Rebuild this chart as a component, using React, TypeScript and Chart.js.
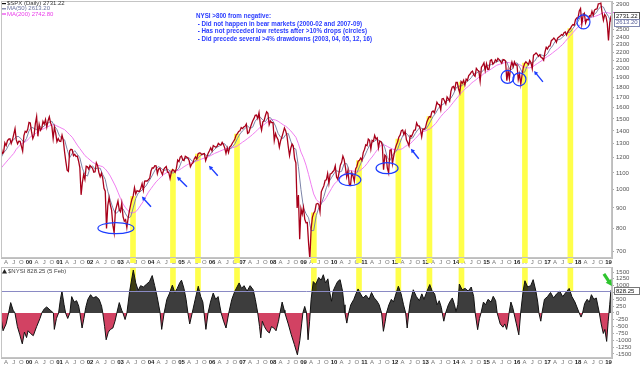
import React, { useEffect, useRef } from "react";
import { Chart, registerables } from "chart.js";

Chart.register(...registerables);

const FONT = "'Liberation Sans', Arial, sans-serif";

// ---- S&P 500, half-monthly closes (mid-month, month-end) ----
const spx1999 = [1243, 1280, 1230, 1238, 1307, 1286, 1322, 1335, 1338, 1302, 1330, 1373, 1418, 1329, 1300, 1320, 1318, 1283, 1247, 1363, 1396, 1389, 1413, 1469];
const spx2000 = [1465, 1394, 1340, 1366, 1460, 1520, 1357, 1452, 1405, 1421, 1479, 1455, 1495, 1431, 1484, 1518, 1466, 1437, 1340, 1429, 1382, 1315, 1340, 1320];
const spx2001 = [1318, 1366, 1326, 1240, 1173, 1117, 1110, 1249, 1260, 1256, 1214, 1224, 1208, 1211, 1178, 1134, 970, 1041, 1089, 1060, 1143, 1139, 1124, 1148];
const spx2002 = [1139, 1130, 1104, 1107, 1166, 1147, 1102, 1076, 1098, 1067, 1007, 990, 800, 912, 955, 916, 889, 815, 780, 886, 910, 936, 890, 880];
const spx2003 = [925, 856, 834, 841, 804, 848, 885, 917, 946, 964, 1011, 975, 994, 990, 990, 1008, 1035, 996, 1050, 1051, 1050, 1058, 1068, 1112];
const spx2004 = [1133, 1131, 1146, 1145, 1095, 1126, 1130, 1107, 1090, 1121, 1133, 1141, 1106, 1102, 1065, 1104, 1121, 1115, 1104, 1130, 1184, 1174, 1205, 1212];
const spx2005 = [1185, 1181, 1210, 1204, 1198, 1181, 1140, 1157, 1165, 1192, 1206, 1191, 1227, 1234, 1233, 1220, 1227, 1229, 1180, 1207, 1232, 1249, 1270, 1248];
const spx2006 = [1287, 1280, 1275, 1281, 1303, 1295, 1290, 1311, 1294, 1270, 1230, 1270, 1236, 1277, 1285, 1304, 1319, 1336, 1366, 1378, 1396, 1401, 1427, 1418];
const spx2007 = [1431, 1438, 1456, 1380, 1387, 1421, 1452, 1482, 1502, 1531, 1533, 1503, 1553, 1455, 1406, 1474, 1484, 1527, 1562, 1549, 1451, 1481, 1468, 1468];
const spx2008 = [1325, 1379, 1349, 1331, 1275, 1323, 1351, 1386, 1424, 1400, 1360, 1280, 1215, 1267, 1298, 1283, 1193, 1166, 900, 969, 752, 896, 868, 903];
const spx2009 = [843, 826, 827, 735, 670, 798, 852, 873, 883, 919, 923, 919, 880, 987, 1004, 1021, 1053, 1057, 1096, 1036, 1093, 1096, 1107, 1115];
const spx2010 = [1145, 1074, 1060, 1104, 1150, 1169, 1211, 1187, 1135, 1075, 1115, 1031, 1025, 1102, 1080, 1048, 1125, 1141, 1176, 1183, 1198, 1181, 1236, 1258];
const spx2011 = [1293, 1286, 1336, 1327, 1260, 1326, 1319, 1364, 1337, 1345, 1270, 1321, 1316, 1292, 1120, 1219, 1209, 1131, 1100, 1253, 1257, 1160, 1212, 1258];
const spx2012 = [1289, 1312, 1350, 1366, 1402, 1408, 1370, 1398, 1330, 1310, 1285, 1362, 1356, 1379, 1405, 1407, 1465, 1441, 1440, 1412, 1353, 1416, 1413, 1426];
const spx2013 = [1472, 1498, 1520, 1515, 1561, 1569, 1553, 1598, 1650, 1631, 1626, 1580, 1682, 1686, 1662, 1633, 1700, 1682, 1660, 1757, 1798, 1806, 1775, 1848];
const spx2014 = [1848, 1783, 1741, 1859, 1841, 1872, 1820, 1884, 1870, 1924, 1937, 1960, 1973, 1931, 1915, 2003, 1984, 1972, 1862, 2018, 2039, 2068, 1980, 2059];
const spx2015 = [1992, 1995, 2097, 2105, 2053, 2068, 2106, 2086, 2123, 2107, 2085, 2063, 2108, 2104, 2091, 1867, 1978, 1890, 2023, 2079, 2023, 2080, 2043, 2044];
const spx2016 = [1880, 1940, 1829, 1932, 2016, 2060, 2081, 2065, 2047, 2097, 2071, 2000, 2162, 2174, 2190, 2171, 2147, 2168, 2133, 2126, 2100, 2199, 2262, 2239];
const spx2017 = [2275, 2279, 2349, 2364, 2385, 2363, 2329, 2384, 2400, 2412, 2433, 2423, 2459, 2470, 2426, 2472, 2500, 2519, 2553, 2575, 2565, 2648, 2676, 2674];
const spx2018 = [2786, 2824, 2581, 2714, 2748, 2600, 2656, 2648, 2711, 2705, 2780, 2718, 2801, 2816, 2818, 2902, 2905, 2914, 2750, 2641, 2730, 2700, 2600, 2351];
const spx2019 = [2610, 2704, 2731.22];
const spxYears = [spx1999, spx2000, spx2001, spx2002, spx2003, spx2004, spx2005, spx2006, spx2007, spx2008, spx2009, spx2010, spx2011, spx2012, spx2013, spx2014, spx2015, spx2016, spx2017, spx2018, spx2019];
const firstYear = 1999;

// ---- Moving averages, month-end values ----
const ma50Monthly = [
  1200, 1235, 1255, 1290, 1320, 1330, 1355, 1355, 1335, 1310, 1340, 1400,
  1430, 1420, 1410, 1440, 1425, 1440, 1460, 1470, 1480, 1440, 1410, 1360,
  1340, 1330, 1260, 1200, 1230, 1250, 1225, 1200, 1130, 1090, 1080, 1130,
  1145, 1125, 1130, 1130, 1090, 1060, 990, 940, 900, 870, 880, 900,
  895, 870, 850, 855, 900, 950, 980, 990, 1005, 1020, 1045, 1070,
  1100, 1130, 1140, 1130, 1115, 1120, 1120, 1100, 1100, 1115, 1130, 1175,
  1195, 1195, 1200, 1180, 1170, 1190, 1205, 1225, 1225, 1215, 1215, 1240,
  1260, 1275, 1285, 1300, 1300, 1275, 1260, 1275, 1300, 1340, 1375, 1400,
  1420, 1440, 1420, 1430, 1480, 1510, 1515, 1490, 1475, 1510, 1510, 1480,
  1440, 1380, 1350, 1340, 1370, 1380, 1320, 1270, 1260, 1140, 1000, 900,
  870, 850, 790, 790, 860, 900, 920, 960, 1010, 1045, 1070, 1095,
  1115, 1105, 1110, 1160, 1160, 1110, 1085, 1090, 1100, 1140, 1180, 1210,
  1250, 1290, 1310, 1320, 1335, 1320, 1310, 1270, 1200, 1180, 1220, 1235,
  1260, 1310, 1360, 1390, 1370, 1340, 1345, 1380, 1410, 1430, 1410, 1410,
  1440, 1480, 1520, 1550, 1590, 1620, 1630, 1660, 1670, 1690, 1730, 1790,
  1810, 1810, 1830, 1850, 1870, 1900, 1940, 1950, 1970, 1960, 1990, 2040,
  2040, 2050, 2070, 2080, 2095, 2100, 2095, 2080, 2000, 1990, 2050, 2070,
  2020, 1960, 1960, 2030, 2060, 2070, 2090, 2140, 2170, 2160, 2150, 2180,
  2240, 2280, 2340, 2360, 2370, 2400, 2430, 2460, 2470, 2520, 2570, 2620,
  2700, 2750, 2730, 2700, 2680, 2720, 2750, 2810, 2860, 2850, 2760, 2700,
  2615, 2613.2,
];
const ma200Monthly = [
  1130, 1150, 1170, 1190, 1210, 1230, 1260, 1280, 1300, 1310, 1320, 1340,
  1360, 1370, 1385, 1400, 1410, 1420, 1430, 1440, 1450, 1450, 1440, 1430,
  1420, 1410, 1390, 1370, 1350, 1320, 1290, 1265, 1240, 1215, 1200, 1185,
  1170, 1160, 1150, 1145, 1140, 1125, 1105, 1080, 1050, 1020, 985, 950,
  920, 900, 885, 875, 875, 880, 895, 915, 935, 960, 985, 1005,
  1025, 1045, 1060, 1075, 1090, 1100, 1110, 1112, 1113, 1113, 1118, 1128,
  1140, 1150, 1160, 1167, 1172, 1178, 1185, 1192, 1198, 1203, 1210, 1220,
  1230, 1237, 1245, 1253, 1260, 1265, 1268, 1271, 1276, 1285, 1298, 1312,
  1325, 1340, 1355, 1372, 1390, 1410, 1430, 1443, 1460, 1477, 1490, 1495,
  1490, 1480, 1465, 1450, 1438, 1420, 1400, 1375, 1350, 1300, 1240, 1200,
  1150, 1090, 1030, 975, 945, 930, 928, 935, 955, 980, 1005, 1030,
  1045, 1060, 1075, 1095, 1110, 1115, 1113, 1110, 1110, 1112, 1125, 1140,
  1160, 1185, 1205, 1230, 1255, 1280, 1295, 1290, 1280, 1270, 1262, 1255,
  1255, 1258, 1265, 1280, 1290, 1300, 1320, 1340, 1360, 1385, 1395, 1400,
  1410, 1420, 1440, 1460, 1490, 1520, 1545, 1570, 1590, 1620, 1650, 1680,
  1710, 1740, 1765, 1790, 1810, 1840, 1860, 1880, 1905, 1920, 1945, 1965,
  1980, 2000, 2020, 2040, 2050, 2060, 2070, 2075, 2070, 2065, 2060, 2055,
  2050, 2030, 2015, 2010, 2010, 2020, 2040, 2060, 2080, 2100, 2125, 2145,
  2165, 2190, 2215, 2240, 2270, 2300, 2340, 2380, 2420, 2460, 2500, 2540,
  2580, 2620, 2650, 2665, 2680, 2695, 2705, 2720, 2740, 2760, 2765, 2755,
  2745, 2742.8,
];

// ---- NYSI (McClellan Summation Index), turning points ----
const nysiDates = [
  1999.08, 1999.15, 1999.25, 1999.33, 1999.4, 1999.48, 1999.54, 1999.62, 1999.7, 1999.78, 1999.85, 1999.92, 1999.97,
  2000.05, 2000.14, 2000.25, 2000.36, 2000.42, 2000.5, 2000.58, 2000.7, 2000.8, 2000.83, 2000.9, 2000.97,
  2001.03, 2001.08, 2001.15, 2001.2, 2001.27, 2001.34, 2001.4, 2001.48, 2001.56, 2001.63, 2001.67, 2001.74, 2001.8, 2001.86, 2001.93,
  2002.02, 2002.1, 2002.2, 2002.3, 2002.38, 2002.42, 2002.48, 2002.53, 2002.6, 2002.67, 2002.75, 2002.82, 2002.88, 2002.96,
  2003.04, 2003.08, 2003.15, 2003.21, 2003.3, 2003.42, 2003.5, 2003.58, 2003.66, 2003.75, 2003.85, 2003.95,
  2004.04, 2004.12, 2004.2, 2004.3, 2004.35, 2004.43, 2004.52, 2004.6, 2004.7, 2004.78, 2004.86, 2004.94,
  2005.0, 2005.08, 2005.15, 2005.21, 2005.27, 2005.35, 2005.45, 2005.55, 2005.63, 2005.7, 2005.74, 2005.8, 2005.87, 2005.95,
  2006.04, 2006.12, 2006.2, 2006.3, 2006.38, 2006.46, 2006.55, 2006.65, 2006.75, 2006.82, 2006.89, 2006.97,
  2007.05, 2007.15, 2007.25, 2007.35, 2007.42, 2007.5, 2007.56, 2007.6, 2007.65, 2007.72, 2007.8, 2007.88, 2007.95,
  2008.03, 2008.1, 2008.18, 2008.23, 2008.3, 2008.37, 2008.39, 2008.5, 2008.6, 2008.7, 2008.8, 2008.88, 2008.94, 2008.98,
  2009.04, 2009.1, 2009.15, 2009.2, 2009.25, 2009.32, 2009.4, 2009.5, 2009.58, 2009.65, 2009.72, 2009.8, 2009.87, 2009.92, 2009.97,
  2010.05, 2010.12, 2010.2, 2010.28, 2010.33, 2010.36, 2010.42, 2010.48, 2010.55, 2010.65, 2010.72, 2010.79, 2010.87, 2010.95,
  2011.05, 2011.15, 2011.23, 2011.32, 2011.4, 2011.48, 2011.56, 2011.62, 2011.68, 2011.72, 2011.8, 2011.88, 2011.95,
  2012.03, 2012.11, 2012.2, 2012.28, 2012.35, 2012.4, 2012.45, 2012.5, 2012.6, 2012.7, 2012.8, 2012.88, 2012.95,
  2013.05, 2013.14, 2013.22, 2013.3, 2013.38, 2013.45, 2013.52, 2013.55, 2013.6, 2013.66, 2013.75, 2013.82, 2013.88, 2013.95,
  2014.0, 2014.06, 2014.11, 2014.2, 2014.3, 2014.4, 2014.5, 2014.58, 2014.63, 2014.71, 2014.77, 2014.82, 2014.9, 2014.97,
  2015.05, 2015.15, 2015.22, 2015.3, 2015.35, 2015.45, 2015.54, 2015.6, 2015.66, 2015.71, 2015.74, 2015.8, 2015.86, 2015.9, 2015.98,
  2016.06, 2016.12, 2016.2, 2016.26, 2016.35, 2016.45, 2016.53, 2016.62, 2016.68, 2016.72, 2016.78, 2016.82, 2016.9,
  2017.0, 2017.1, 2017.2, 2017.3, 2017.4, 2017.5, 2017.6, 2017.71, 2017.8, 2017.9,
  2018.04, 2018.1, 2018.15, 2018.22, 2018.3, 2018.37, 2018.44, 2018.52, 2018.6, 2018.7, 2018.76, 2018.83, 2018.88, 2018.94, 2018.99,
  2019.04, 2019.08,
];
const nysiValues = [
  -150, -650, -400, 0, 380, 100, 0, -500, -800, -1130, -700, -900, -650,
  -750, -830, -500, -200, 0, 150, 220, 100, 0, -600, -200, 0,
  500, 800, 300, 0, -200, 0, 600, 400, 450, 250, 0, -550, -200, 200, 500,
  670, 550, 600, 500, 250, 0, -500, -980, -700, -600, -550, -300, 0, 380,
  100, 0, -240, 0, 800, 1570, 1100, 830, 1000, 950, 1050, 1150,
  1370, 1000, 600, 0, -600, 0, 500, 700, 1020, 750, 900, 1100,
  1200, 900, 500, 0, -400, 0, 500, 980, 600, 400, 0, -600, 0, 400,
  730, 500, 600, 0, -300, -550, 0, 500, 800, 950, 1100, 900,
  1000, 800, 1000, 850, 500, 0, -500, -910, -300, -500, -650, -730, -500,
  -550, -650, -300, 0, 400, 100, 0, -400, -800, -1150, -1530, -1000, -400, 0,
  240, 0, -980, -300, 500, 1150, 1050, 1300, 1200, 1400, 1100, 1250, 700, 430, 800,
  1000, 1150, 1220, 800, 300, 0, -370, 0, 300, 500, 700, 880, 700, 550,
  650, 500, 750, 550, 450, 300, 0, -670, -300, 0, 300, 500, 400,
  700, 980, 700, 300, 0, -550, 0, 400, 850, 600, 450, 700, 500,
  800, 1040, 800, 700, 300, 450, 200, 0, -300, 0, 300, 450, 550, 300,
  50, 300, 1060, 850, 900, 800, 950, 600, 0, -610, -200, 0, 400, 300,
  500, 400, 610, 450, 0, -400, -520, -400, -600, -300, 0, 400, 200, 0, -400,
  -800, 0, 800, 1180, 950, 1000, 1220, 800, 400, 0, -300, 0, 500,
  600, 750, 550, 700, 800, 600, 750, 900, 600, 400,
  0, -150, 0, 350, 500, 400, 670, 500, 550, 0, -400, -750, -600, -1040, -300,
  300, 828.25,
];

// NYSI crossings above the threshold from negative (highlight bands)
const bandDates = [2003.41, 2004.72, 2005.54, 2006.82, 2009.34, 2010.82, 2012.11, 2013.13, 2014.18, 2016.26, 2017.75];
const nysiThreshold = 800;

// Axis ticks
const spxTicks = [700, 800, 900, 1000, 1100, 1200, 1300, 1400, 1500, 1600, 1700, 1800, 1900, 2000, 2100, 2200, 2300, 2400, 2500, 2900];
const nysiTicks = [-1500, -1250, -1000, -750, -500, -250, 0, 250, 500, 750, 1000, 1250, 1500];
const quarterLetters = ["", "A", "J", "O"];
const tickFirstYear = 1999;
const tickLastYear = 2019;

// Legend values
const spxLast = 2731.22;
const ma50Last = 2613.2;
const ma200Last = 2742.8;
const nysiLast = 828.25;

// Annotations (data coordinates)
const circleNotes = [
  { x: 2002.85, y: 801, rx: 18, ry: 5.5 },
  { x: 2010.52, y: 1058, rx: 11, ry: 6 },
  { x: 2011.74, y: 1130, rx: 11, ry: 5.5 },
  { x: 2015.69, y: 1908, rx: 6.5, ry: 6.5 },
  { x: 2016.08, y: 1882, rx: 6.5, ry: 6.5 },
  { x: 2018.18, y: 2616, rx: 6.5, ry: 7 },
];
const arrowNotes = [
  { x1: 2004.0, y1: 906, x2: 2003.7, y2: 960 },
  { x1: 2005.18, y1: 1016, x2: 2004.85, y2: 1076 },
  { x1: 2006.19, y1: 1082, x2: 2005.9, y2: 1146 },
  { x1: 2012.78, y1: 1193, x2: 2012.52, y2: 1263 },
  { x1: 2016.85, y1: 1855, x2: 2016.56, y2: 1975 },
];
const greenArrow = { x1: 2018.85, y1: 1430, x2: 2019.11, y2: 990 };
const noteLines = [
  "NYSI >800 from negative:",
  " - Did not happen in bear markets (2000-02 and 2007-09)",
  " - Has not preceded low retests after >10% drops (circles)",
  " - Did precede several >4% drawdowns (2003, 04, 05, 12, 16)",
];
const noteWidths = [75, 166, 171, 176];

const X_MIN = 1999.082;
const X_MAX = 2019.115;

// ---- helpers ----
type Pt = { x: number; y: number };
function spxPoints(): Pt[] {
  const pts: Pt[] = [];
  spxYears.forEach((arr, yi) => arr.forEach((v, i) => pts.push({ x: firstYear + yi + (i + 1) / 24, y: v })));
  return pts;
}
function monthlyPoints(arr: number[]): Pt[] {
  return arr.map((v, i) => ({ x: firstYear + (i + 1) / 12, y: v }));
}
function nysiPoints(): Pt[] {
  const n = Math.min(nysiDates.length, nysiValues.length);
  const pts: Pt[] = [];
  for (let i = 0; i < n; i++) pts.push({ x: nysiDates[i], y: nysiValues[i] });
  return pts;
}
function valueAt(pts: Pt[], x: number): number {
  for (let i = 1; i < pts.length; i++) {
    if (pts[i].x >= x) {
      const a = pts[i - 1], b = pts[i];
      return a.y + ((b.y - a.y) * (x - a.x)) / (b.x - a.x);
    }
  }
  return pts[pts.length - 1].y;
}
function quarterTicks() {
  const t: { value: number }[] = [];
  for (let y = tickFirstYear; y <= tickLastYear; y++) {
    for (let q = 0; q < 4; q++) {
      const v = y + q / 4;
      if (v >= X_MIN && v <= X_MAX) t.push({ value: v });
    }
  }
  return t;
}
const isYear = (v: number) => Math.abs(v - Math.round(v)) < 1e-6;
function quarterLabel(v: number) {
  const yr = Math.floor(v + 1e-6);
  const q = Math.round((v - yr) * 4);
  return q === 0 ? String(yr).slice(2) : quarterLetters[q];
}
function drawArrow(ctx: CanvasRenderingContext2D, x1: number, y1: number, x2: number, y2: number, color: string, width: number, head: number) {
  const ang = Math.atan2(y2 - y1, x2 - x1);
  ctx.strokeStyle = color;
  ctx.fillStyle = color;
  ctx.lineWidth = width;
  ctx.beginPath();
  ctx.moveTo(x1, y1);
  ctx.lineTo(x2 - Math.cos(ang) * head * 0.7, y2 - Math.sin(ang) * head * 0.7);
  ctx.stroke();
  ctx.beginPath();
  ctx.moveTo(x2, y2);
  ctx.lineTo(x2 - head * Math.cos(ang - 0.5), y2 - head * Math.sin(ang - 0.5));
  ctx.lineTo(x2 - head * Math.cos(ang + 0.5), y2 - head * Math.sin(ang + 0.5));
  ctx.closePath();
  ctx.fill();
}
function valueBox(ctx: CanvasRenderingContext2D, x: number, y: number, text: string, border: string, color: string) {
  ctx.font = `6px ${FONT}`;
  const w = 25, h = 7;
  ctx.fillStyle = "#fff";
  ctx.fillRect(x, y - h / 2, w, h);
  ctx.strokeStyle = border;
  ctx.lineWidth = 1;
  ctx.strokeRect(x + 0.5, Math.round(y - h / 2) + 0.5, w, h);
  ctx.fillStyle = color;
  ctx.textAlign = "left";
  ctx.textBaseline = "middle";
  ctx.fillText(text, x + 2, y + 0.5);
}
function noPadding(s: any) {
  s.paddingTop = 0;
  s.paddingBottom = 0;
  s.paddingLeft = 0;
  s.paddingRight = 0;
}
function xAxisOptions(height: number) {
  return {
    type: "linear",
    min: X_MIN,
    max: X_MAX,
    offset: false,
    z: 1,
    afterBuildTicks: (s: any) => { s.ticks = quarterTicks(); },
    afterFit: (s: any) => { s.height = height; noPadding(s); },
    ticks: {
      autoSkip: false,
      maxRotation: 0,
      minRotation: 0,
      padding: 1,
      color: (c: any) => (c.tick && isYear(c.tick.value) ? "#222" : "#777"),
      font: (c: any) => ({ family: FONT, size: 6, weight: c.tick && isYear(c.tick.value) ? "bold" : "normal" }),
      callback: (v: any) => quarterLabel(Number(v)),
    },
    grid: { drawOnChartArea: false, drawTicks: false },
    border: { color: "#bdbdbd" },
  };
}

const framePlugin = {
  id: "frame",
  afterDraw(chart: any) {
    const { ctx, chartArea: a } = chart;
    ctx.save();
    ctx.strokeStyle = "#c4c4c4";
    ctx.lineWidth = 1;
    ctx.strokeRect(a.left + 0.5, a.top + 0.5, a.right - a.left - 1, a.bottom - a.top - 1);
    ctx.restore();
  },
};

export default function App() {
  const topRef = useRef<HTMLCanvasElement>(null);
  const botRef = useRef<HTMLCanvasElement>(null);

  useEffect(() => {
    const spx = spxPoints();
    const ma50 = monthlyPoints(ma50Monthly);
    const ma200 = monthlyPoints(ma200Monthly);
    const nysi = nysiPoints();

    const topNotes = {
      id: "topNotes",
      afterDraw(chart: any) {
        const { ctx } = chart;
        const xs = chart.scales.x, ys = chart.scales.y;
        ctx.save();
        ctx.strokeStyle = "#1c3cff";
        ctx.lineWidth = 1.2;
        circleNotes.forEach((c) => {
          ctx.beginPath();
          ctx.ellipse(xs.getPixelForValue(c.x), ys.getPixelForValue(c.y), c.rx, c.ry, 0, 0, Math.PI * 2);
          ctx.stroke();
        });
        arrowNotes.forEach((a) =>
          drawArrow(ctx, xs.getPixelForValue(a.x1), ys.getPixelForValue(a.y1), xs.getPixelForValue(a.x2), ys.getPixelForValue(a.y2), "#1c3cff", 1.4, 4.5)
        );
        ctx.fillStyle = "#2a3cff";
        ctx.font = `bold 7px ${FONT}`;
        ctx.textAlign = "left";
        ctx.textBaseline = "middle";
        noteLines.forEach((t, i) => ctx.fillText(t, 196, 16 + i * 7.7, noteWidths[i]));
        ctx.font = `6px ${FONT}`;
        const legend = [
          { t: `$SPX (Daily) ${spxLast.toFixed(2)}`, c: "#333", m: "#111" },
          { t: `MA(50) ${ma50Last.toFixed(2)}`, c: "#6c74a0", m: "#6c74a0" },
          { t: `MA(200) ${ma200Last.toFixed(2)}`, c: "#ea3dea", m: "#ea3dea" },
        ];
        legend.forEach((l, i) => {
          const y = 3.5 + i * 5.2;
          ctx.fillStyle = l.m;
          ctx.fillRect(2, y - 0.5, 4, 1.2);
          ctx.fillStyle = l.c;
          ctx.fillText(l.t, 7, y);
        });
        const ax = chart.chartArea.right + 1;
        const y200 = ys.getPixelForValue(ma200Last);
        ctx.strokeStyle = "#ea55ea";
        ctx.lineWidth = 1;
        ctx.beginPath();
        ctx.moveTo(ax, Math.round(y200) - 1.5);
        ctx.lineTo(640, Math.round(y200) - 1.5);
        ctx.stroke();
        valueBox(ctx, ax + 1, ys.getPixelForValue(spxLast) + 1.5, spxLast.toFixed(2), "#555", "#111");
        valueBox(ctx, ax + 1, ys.getPixelForValue(ma50Last), ma50Last.toFixed(2), "#8088b0", "#5a629a");
        ctx.restore();
      },
    };

    const botNotes = {
      id: "botNotes",
      afterDatasetsDraw(chart: any) {
        const { ctx, chartArea: a } = chart;
        const ys = chart.scales.y;
        const y = Math.round(ys.getPixelForValue(nysiThreshold)) + 0.5;
        ctx.save();
        ctx.strokeStyle = "#8a8ac4";
        ctx.lineWidth = 1;
        ctx.beginPath();
        ctx.moveTo(a.left, y);
        ctx.lineTo(a.right, y);
        ctx.stroke();
        ctx.restore();
      },
      afterDraw(chart: any) {
        const { ctx } = chart;
        const xs = chart.scales.x, ys = chart.scales.y;
        ctx.save();
        ctx.fillStyle = "#222";
        ctx.beginPath();
        ctx.moveTo(2, 7.5);
        ctx.lineTo(4.5, 3);
        ctx.lineTo(7, 7.5);
        ctx.closePath();
        ctx.fill();
        ctx.font = `6px ${FONT}`;
        ctx.fillStyle = "#444";
        ctx.textAlign = "left";
        ctx.textBaseline = "middle";
        ctx.fillText(`$NYSI ${nysiLast.toFixed(2)} (5 Feb)`, 8, 5.5);
        valueBox(ctx, chart.chartArea.right + 2, ys.getPixelForValue(nysiLast), nysiLast.toFixed(2), "#777", "#111");
        drawArrow(ctx, xs.getPixelForValue(greenArrow.x1), ys.getPixelForValue(greenArrow.y1), xs.getPixelForValue(greenArrow.x2), ys.getPixelForValue(greenArrow.y2), "#2fc52f", 3.2, 7);
        ctx.restore();
      },
    };

    const topChart = new Chart(topRef.current as HTMLCanvasElement, {
      type: "line",
      data: {
        datasets: [
          {
            type: "bar",
            data: bandDates.map((d) => ({ x: d, y: [600, valueAt(spx, d)] })),
            backgroundColor: "#ffff4a",
            borderWidth: 0,
            barThickness: 5,
            grouped: false,
            order: 10,
            clip: { left: 0, top: 0, right: 0, bottom: 5 },
          },
          { data: ma200, borderColor: "#f07ef0", borderWidth: 1, pointRadius: 0, tension: 0, order: 3 },
          { data: ma50, borderColor: "#7c84a8", borderWidth: 1, pointRadius: 0, tension: 0, order: 2 },
          { data: spx, borderColor: "#a8001a", borderWidth: 1.3, pointRadius: 0, tension: 0, order: 1 },
        ],
      } as any,
      options: {
        responsive: false,
        animation: false,
        events: [],
        layout: { padding: { left: 1, top: 1, right: 0, bottom: 0 } },
        plugins: { legend: { display: false }, tooltip: { enabled: false } },
        scales: {
          x: xAxisOptions(8),
          y: {
            type: "logarithmic",
            position: "right",
            min: 675,
            max: 2950,
            afterBuildTicks: (s: any) => { s.ticks = spxTicks.map((v) => ({ value: v })); },
            afterFit: (s: any) => { s.width = 28; noPadding(s); },
            ticks: { autoSkip: false, padding: 2, color: "#555", font: { family: FONT, size: 6 }, callback: (v: any) => String(v) },
            grid: { drawOnChartArea: false, tickLength: 2, color: "#aaa" },
            border: { color: "#bdbdbd" },
          },
        },
      } as any,
      plugins: [framePlugin, topNotes],
    });

    const botChart = new Chart(botRef.current as HTMLCanvasElement, {
      type: "line",
      data: {
        datasets: [
          {
            type: "bar",
            data: bandDates.map((d) => ({ x: d, y: [nysiThreshold, 2000] })),
            backgroundColor: "#ffff4a",
            borderWidth: 0,
            barThickness: 5,
            grouped: false,
            order: 10,
          },
          {
            data: nysi,
            borderColor: "#111",
            borderWidth: 1,
            pointRadius: 0,
            tension: 0,
            order: 1,
            fill: { target: "origin", above: "rgba(0,0,0,0.76)", below: "rgba(200,25,65,0.82)" },
          },
        ],
      } as any,
      options: {
        responsive: false,
        animation: false,
        events: [],
        layout: { padding: { left: 1, top: 1, right: 0, bottom: 0 } },
        plugins: { legend: { display: false }, tooltip: { enabled: false } },
        scales: {
          x: xAxisOptions(10),
          y: {
            type: "linear",
            position: "right",
            min: -1647,
            max: 1683,
            afterBuildTicks: (s: any) => { s.ticks = nysiTicks.map((v) => ({ value: v })); },
            afterFit: (s: any) => { s.width = 28; noPadding(s); },
            ticks: { autoSkip: false, padding: 2, color: "#555", font: { family: FONT, size: 6 }, callback: (v: any) => String(v) },
            grid: { drawOnChartArea: false, tickLength: 2, color: "#aaa" },
            border: { color: "#bdbdbd" },
          },
        },
      } as any,
      plugins: [framePlugin, botNotes],
    });

    return () => {
      topChart.destroy();
      botChart.destroy();
    };
  }, []);

  return (
    <div style={{ position: "absolute", left: 0, top: 0, width: 640, height: 368, background: "#fff" }}>
      <canvas ref={topRef} width={640} height={266} style={{ display: "block", width: 640, height: 266 }} />
      <canvas ref={botRef} width={640} height={102} style={{ display: "block", width: 640, height: 102 }} />
    </div>
  );
}
